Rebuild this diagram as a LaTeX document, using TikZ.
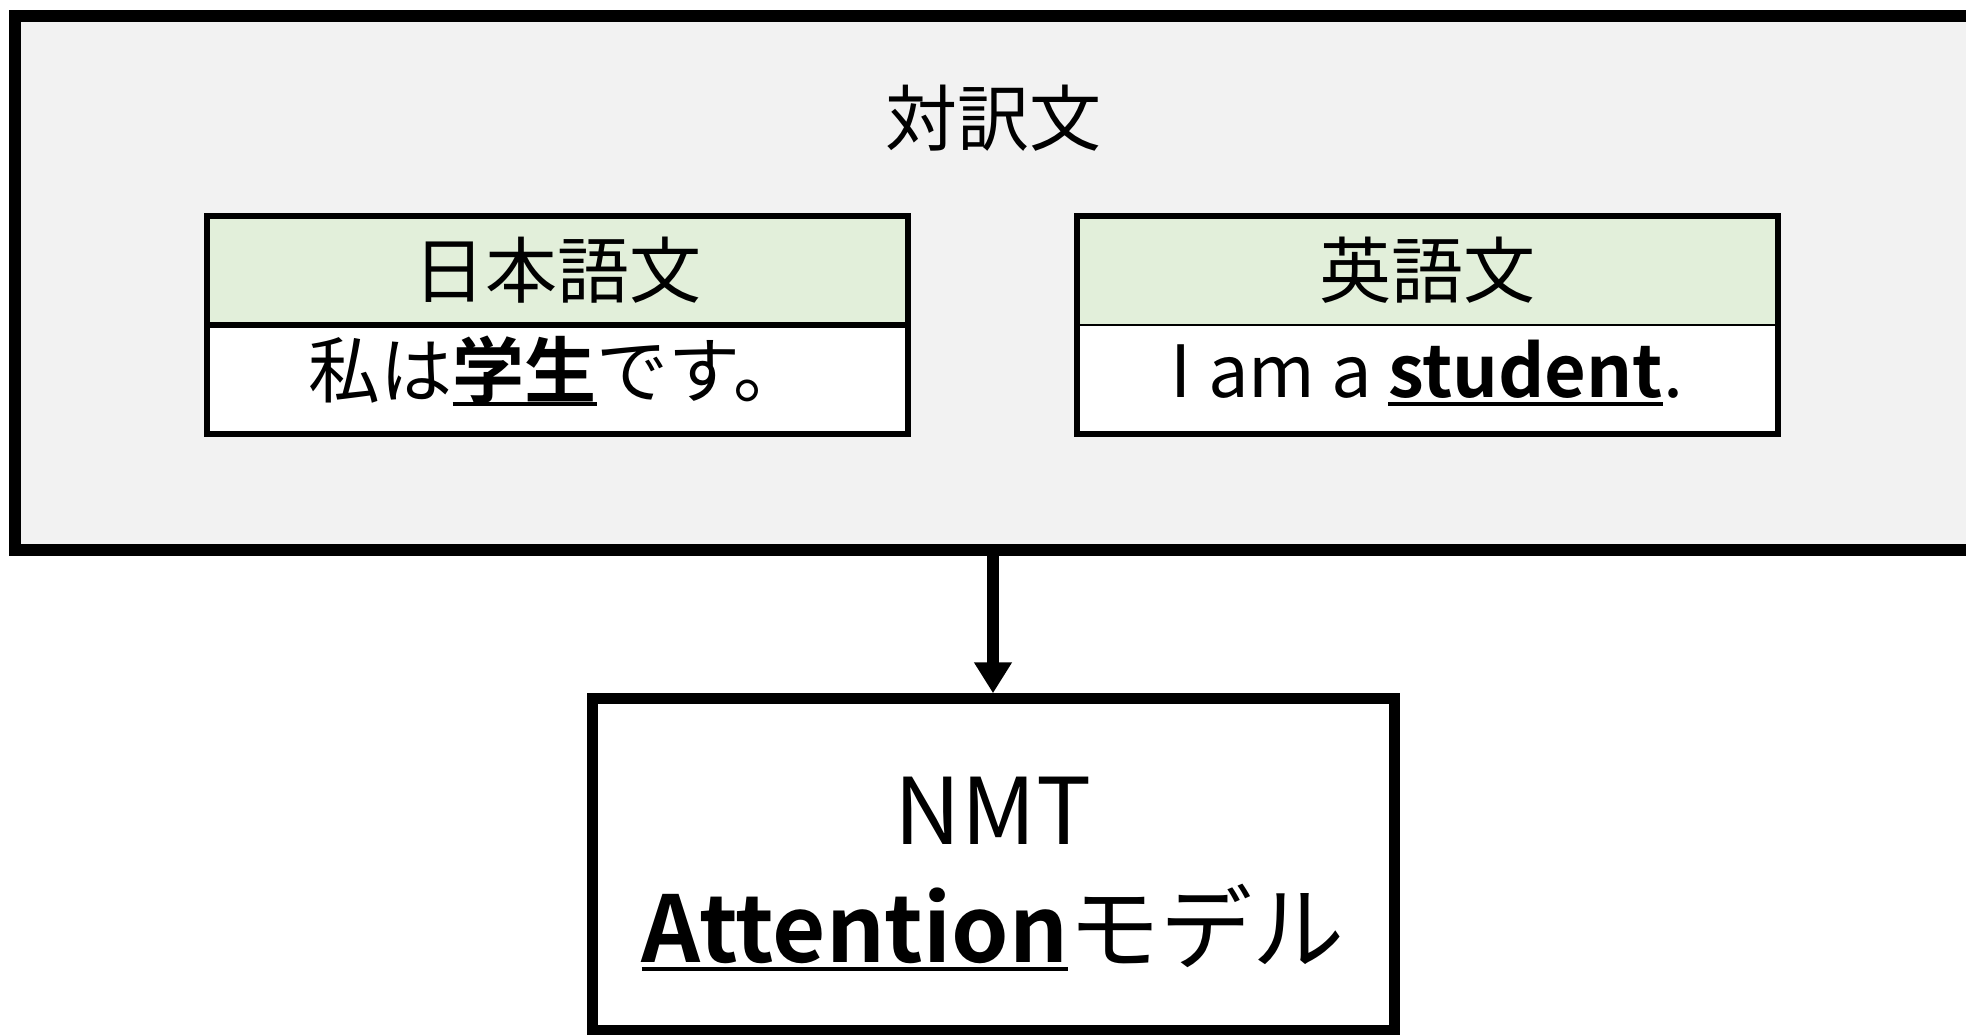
\documentclass[tikz,border=0pt]{standalone}
\usepackage{fontspec}
\setmainfont{Noto Sans CJK JP}[BoldFont={Noto Sans CJK JP Bold}]
\usetikzlibrary{arrows.meta,fit}
\definecolor{outerfill}{HTML}{F2F2F2}
\definecolor{headfill}{HTML}{E2EFDA}
\newcommand\myul[1]{\setbox0=\hbox{#1}\rlap{\rule[-4.2pt]{\wd0}{1.9pt}}\box0}
\begin{document}
\begin{tikzpicture}[x=0.5pt,y=-0.5pt,
  every node/.style={inner sep=0pt, outer sep=0pt},
  outerbox/.style={draw, line width=6pt, fill=outerfill, minimum width=978.7pt, minimum height=267.25pt},
  headbox/.style={fill=headfill, minimum width=350.5pt, minimum height=54.75pt, font=\fontsize{36}{40}\selectfont},
  bodybox/.style={fill=white, minimum width=350.5pt, minimum height=54.5pt, font=\fontsize{36}{40}\selectfont, text height=27pt, text depth=9pt},
  modelbox/.style={draw, line width=5.5pt, fill=white, minimum width=401pt, minimum height=165.75pt},
  modeltext/.style={align=center, font=\fontsize{46}{59}\selectfont},
  flow/.style={line width=6pt, shorten >=2.75pt, -{Triangle[width=18pt,length=15.5pt]}}]
\useasboundingbox (0,0) rectangle (1966,1034);
\clip (0,0) rectangle (1966,1034);
\fill[white] (0,0) rectangle (1966,1034);
% outer container
\node[outerbox] (outer) at (994,282.75) {};
\node[font=\fontsize{36}{40}\selectfont] (title) at (993,118) {対訳文};
% Japanese box
\node[headbox, draw, line width=3pt] (jh) at (557,270.25) {日本語文};
\node[bodybox, draw, line width=3pt] (jb) at (557,379.5) {私は\myul{\textbf{学生}}です。};
% English box
\node[headbox, draw, line width=1pt] (eh) at (1427,270.25) {英語文};
\node[bodybox, draw, line width=1pt] (eb) at (1427,379.5) {I am a \myul{\textbf{student}}.};
\node[fit=(eh)(eb), draw, line width=3pt] (eframe) {};
% model box
\node[modelbox] (model) at (993,864.5) {};
\node[modeltext] (mtext) at (993,874) {NMT\\\myul{\textbf{Attention}}モデル};
% arrow
\draw[flow] (model.north |- outer.south) -- (model.north);
\end{tikzpicture}
\end{document}
